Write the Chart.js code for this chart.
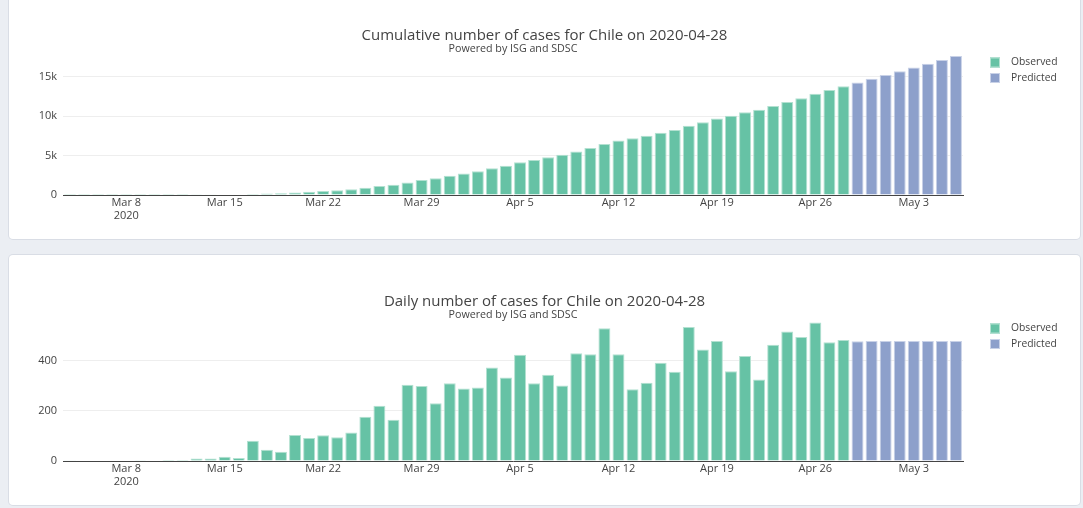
<!DOCTYPE html>
<html><head><meta charset="utf-8">
<script src="https://cdn.jsdelivr.net/npm/chart.js@4.4.1/dist/chart.umd.min.js"></script>
<style>
html,body{margin:0;padding:0;background:#ebeef3;width:1083px;height:508px;overflow:hidden;font-family:"Open Sans",sans-serif;}
.card{position:absolute;left:9px;width:1071px;height:250px;background:#fff;border-radius:4px;box-shadow:0 0 0 1px rgba(205,210,220,0.6);}
#c1{top:-11px;} #c2{top:255px;}
canvas{display:block;}
</style></head><body>
<div class="card" id="c1"><canvas id="cum" width="1071" height="250"></canvas></div>
<div class="card" id="c2"><canvas id="daily" width="1071" height="250"></canvas></div>
<script>
const categories = [
  'Mar 4','Mar 5','Mar 6','Mar 7','Mar 8','Mar 9','Mar 10','Mar 11','Mar 12','Mar 13','Mar 14','Mar 15','Mar 16',
  'Mar 17','Mar 18','Mar 19','Mar 20','Mar 21','Mar 22','Mar 23','Mar 24','Mar 25','Mar 26','Mar 27','Mar 28','Mar 29','Mar 30','Mar 31',
  'Apr 1','Apr 2','Apr 3','Apr 4','Apr 5','Apr 6','Apr 7','Apr 8','Apr 9','Apr 10','Apr 11','Apr 12','Apr 13','Apr 14','Apr 15',
  'Apr 16','Apr 17','Apr 18','Apr 19','Apr 20','Apr 21','Apr 22','Apr 23','Apr 24','Apr 25','Apr 26','Apr 27','Apr 28',
  'Apr 29','Apr 30','May 1','May 2','May 3','May 4','May 5','May 6'
];
const observedDaily = [
  1,0,0,0,0,3,0,4,4,10,10,17,12,
  81,45,37,104,92,103,95,114,176,220,164,304,299,230,310,
  289,293,373,333,424,310,344,301,430,426,529,426,286,312,392,
  356,534,445,478,358,419,325,464,516,494,552,473,482
];
const predictedDaily = [477,478,478,478,478,478,478,478];
const observedCumulative = [
  1,1,1,1,1,4,4,8,12,22,32,49,61,
  142,187,224,328,420,523,618,732,908,1128,1292,1596,1895,2125,2435,
  2724,3017,3390,3723,4147,4457,4801,5102,5532,5958,6487,6913,7199,7511,7903,
  8259,8793,9238,9716,10074,10493,10818,11282,11798,12292,12844,13317,13799
];
const predictedCumulative = [14275,14760,15240,15700,16170,16660,17140,17630];
const xTickLabels = ['Mar 8','Mar 15','Mar 22','Mar 29','Apr 5','Apr 12','Apr 19','Apr 26','May 3'];
const xYearLabel = '2020';
const yTicksCumulative = [0,5000,10000,15000];
const yTicksDaily = [0,200,400];
const seriesNames = ['Observed','Predicted'];
const subtitleText = 'Powered by ISG and SDSC';

const FONT = '"Open Sans", sans-serif';
const TXT = '#444';

const fixedLegend = {
  id: 'fixedLegend',
  afterDraw(chart, args, opts) {
    const ctx = chart.ctx;
    ctx.save();
    chart.data.datasets.forEach((ds, i) => {
      const cy = opts.y0 + i * opts.step;
      ctx.fillStyle = ds.backgroundColor;
      ctx.fillRect(opts.x, cy - 5, 10, 10);
      ctx.strokeStyle = ds.borderColor;
      ctx.lineWidth = 1;
      ctx.strokeRect(opts.x + 0.5, cy - 4.5, 9, 9);
      ctx.fillStyle = TXT;
      ctx.font = '10.3px ' + FONT;
      ctx.textBaseline = 'middle';
      ctx.textAlign = 'left';
      ctx.fillText(ds.label, opts.textX, cy);
    });
    ctx.restore();
  }
};

function padSeries(obs, pred) {
  const o = obs.concat(pred.map(() => null));
  const p = obs.map(() => null).concat(pred);
  return [o, p];
}

function makeChart(id, obs, pred, yMax, yTicks, fmt, titleText) {
  const [o, p] = padSeries(obs, pred);
  return new Chart(document.getElementById(id), {
    type: 'bar',
    data: {
      labels: categories,
      datasets: [
        {label: seriesNames[0], data: o, backgroundColor: '#66c2a5', borderColor: '#b3e1d1', borderWidth: 1, grouped: false, barPercentage: 0.85, categoryPercentage: 1.0},
        {label: seriesNames[1], data: p, backgroundColor: '#8da0cb', borderColor: '#c8d1e7', borderWidth: 1, grouped: false, barPercentage: 0.85, categoryPercentage: 1.0}
      ]
    },
    options: {
      responsive: false,
      animation: false,
      layout: {padding: {left: 0, right: 0, top: 0, bottom: 0}},
      plugins: {
        legend: {display: false},
        tooltip: {enabled: false},
        title: {display: true, text: titleText, color: TXT, font: {family: FONT, size: 15, weight: 'normal', lineHeight: 1.2}, padding: {top: 37.5, bottom: 0}},
        subtitle: {display: true, fullSize: false, text: subtitleText, color: TXT, font: {family: FONT, size: 10.7, weight: 'normal', lineHeight: 1.2}, padding: {top: -1.5, bottom: -5.8}},
        fixedLegend: {x: 981, textX: 1002, y0: 73.5, step: 15.5}
      },
      scales: {
        x: {
          type: 'category',
          offset: true,
          grid: {display: false, drawTicks: false},
          border: {display: true, color: '#444', width: 1},
          ticks: {
            autoSkip: false, maxRotation: 0, minRotation: 0, padding: 0.5, color: TXT,
            font: {family: FONT, size: 11, lineHeight: 1.25},
            callback(value) {
              const lab = this.getLabelForValue(value);
              if (!xTickLabels.includes(lab)) return null;
              return lab === xTickLabels[0] ? [lab, xYearLabel] : lab;
            }
          },
          afterFit(s) { s.height = 44; }
        },
        y: {
          min: 0, max: yMax,
          grid: {color: '#eeeeee', drawTicks: false},
          border: {display: false},
          ticks: {padding: 6, color: TXT, font: {family: FONT, size: 11}, callback: fmt},
          afterBuildTicks(s) { s.ticks = yTicks.map(v => ({value: v})); },
          afterFit(s) { s.width = 54; }
        },
        yR: {
          position: 'right', display: true, min: 0, max: 1,
          grid: {display: false, drawTicks: false}, border: {display: false},
          ticks: {display: false},
          afterFit(s) { s.width = 117; }
        }
      }
    },
    plugins: [fixedLegend]
  });
}

makeChart('cum', observedCumulative, predictedCumulative, 18400, yTicksCumulative,
  v => v === 0 ? '0' : (v / 1000) + 'k',
  'Cumulative number of cases for Chile on 2020-04-28');
makeChart('daily', observedDaily, predictedDaily, 578, yTicksDaily,
  v => String(v),
  'Daily number of cases for Chile on 2020-04-28');
</script>
</body></html>
